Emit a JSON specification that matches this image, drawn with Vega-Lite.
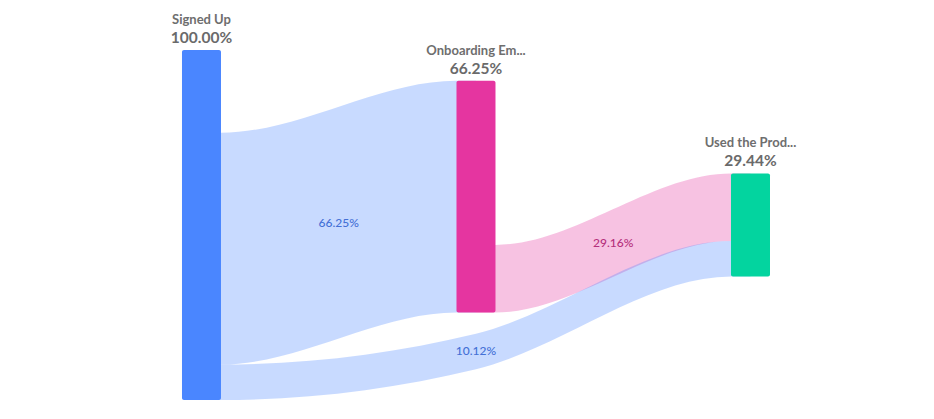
{
  "$schema": "https://vega.github.io/schema/vega-lite/v6.json",
  "width": 934,
  "height": 419,
  "autosize": {"type": "fit", "contains": "padding"},
  "padding": 0,
  "config": {"view": {"stroke": null}, "text": {"font": "Lato"}},
  "datasets": {
    "nodes": [
      {"node": "Signed Up", "stage": 0, "pct": "100.00%", "lo": 0, "hi": 100},
      {"node": "Onboarding Em...", "stage": 1, "pct": "66.25%", "lo": 25, "hi": 91.25},
      {"node": "Used the Prod...", "stage": 2, "pct": "29.44%", "lo": 35.3, "hi": 64.74}
    ],
    "links": [
      {"link": "A", "source": "Signed Up", "step": 0, "lo": 10.12, "hi": 76.37},
      {"link": "A", "source": "Signed Up", "step": 0.071, "lo": 10.12, "hi": 76.37},
      {"link": "A", "source": "Signed Up", "step": 0.929, "lo": 25, "hi": 91.25},
      {"link": "A", "source": "Signed Up", "step": 1, "lo": 25, "hi": 91.25},
      {"link": "B", "source": "Onboarding Em...", "step": 1, "lo": 25, "hi": 44.32},
      {"link": "B", "source": "Onboarding Em...", "step": 1.071, "lo": 25, "hi": 44.32},
      {"link": "B", "source": "Onboarding Em...", "step": 1.929, "lo": 45.42, "hi": 64.74},
      {"link": "B", "source": "Onboarding Em...", "step": 2, "lo": 45.42, "hi": 64.74},
      {"link": "C", "source": "Signed Up", "step": 0, "lo": 0, "hi": 10.12},
      {"link": "C", "source": "Signed Up", "step": 0.071, "lo": 0, "hi": 10.12},
      {"link": "C", "source": "Signed Up", "step": 1, "lo": 8.8, "hi": 18.92},
      {"link": "C", "source": "Signed Up", "step": 1.929, "lo": 35.3, "hi": 45.42},
      {"link": "C", "source": "Signed Up", "step": 2, "lo": 35.3, "hi": 45.42}
    ],
    "linkLabels": [
      {"label": "66.25%", "source": "Signed Up", "step": 0.5, "mid": 50.7},
      {"label": "29.16%", "source": "Onboarding Em...", "step": 1.5, "mid": 44.87},
      {"label": "10.12%", "source": "Signed Up", "step": 1, "mid": 13.86}
    ]
  },
  "layer": [
    {
      "data": {"name": "links"},
      "mark": {"type": "area", "orient": "vertical", "interpolate": "monotone", "opacity": 0.3},
      "encoding": {
        "x": {"field": "step", "type": "quantitative", "axis": null, "scale": {"domain": [-0.734, 2.6685], "nice": false, "zero": false, "padding": 0}},
        "y": {"field": "lo", "type": "quantitative", "axis": null, "scale": {"domain": [-5.43, 114.29], "nice": false, "zero": false, "padding": 0}},
        "y2": {"field": "hi"},
        "detail": {"field": "link"},
        "color": {"field": "source", "type": "nominal", "legend": null,
          "scale": {"domain": ["Signed Up", "Onboarding Em...", "Used the Prod..."], "range": ["#4a86ff", "#e535a0", "#03d49f"]}}
      }
    },
    {
      "data": {"name": "nodes"},
      "mark": {"type": "bar", "orient": "vertical", "width": 39, "cornerRadius": 2},
      "encoding": {
        "x": {"field": "stage", "type": "quantitative"},
        "y": {"field": "lo", "type": "quantitative"},
        "y2": {"field": "hi"},
        "color": {"field": "node", "type": "nominal", "legend": null}
      }
    },
    {
      "data": {"name": "nodes"},
      "mark": {"type": "text", "dy": -26, "baseline": "alphabetic", "fontSize": 13, "fontWeight": "bold", "fill": "#6e6e6e"},
      "encoding": {
        "x": {"field": "stage", "type": "quantitative"},
        "y": {"field": "hi", "type": "quantitative"},
        "text": {"field": "node"}
      }
    },
    {
      "data": {"name": "nodes"},
      "mark": {"type": "text", "dy": -7, "baseline": "alphabetic", "fontSize": 15.5, "fontWeight": "bold", "fill": "#6a6a6a"},
      "encoding": {
        "x": {"field": "stage", "type": "quantitative"},
        "y": {"field": "hi", "type": "quantitative"},
        "text": {"field": "pct"}
      }
    },
    {
      "data": {"name": "linkLabels"},
      "mark": {"type": "text", "baseline": "middle", "fontSize": 12, "fontWeight": 500},
      "encoding": {
        "x": {"field": "step", "type": "quantitative"},
        "y": {"field": "mid", "type": "quantitative"},
        "text": {"field": "label"},
        "fill": {"field": "source", "type": "nominal", "legend": null,
          "scale": {"domain": ["Signed Up", "Onboarding Em..."], "range": ["#4470d6", "#b5307c"]}}
      }
    }
  ]
}
